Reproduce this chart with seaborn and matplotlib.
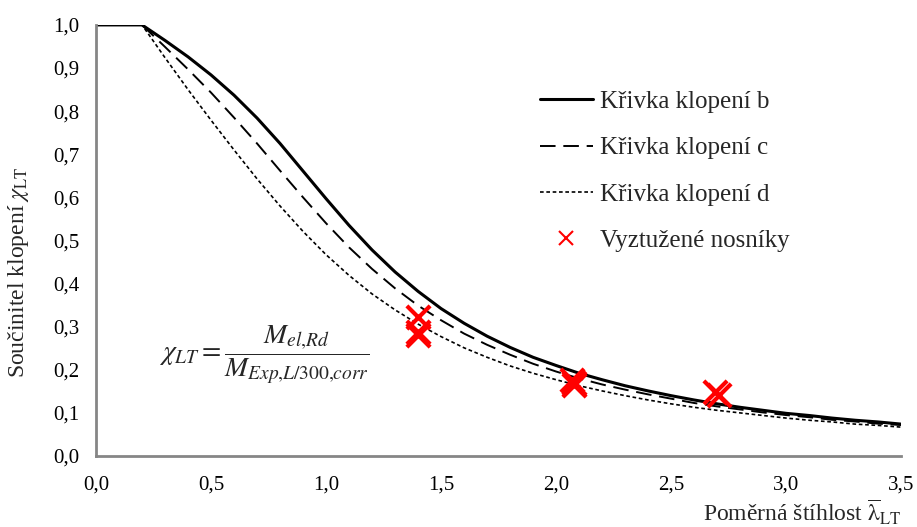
import matplotlib
matplotlib.use("Agg")
import matplotlib.pyplot as plt
import matplotlib.ticker as mticker
from matplotlib.lines import Line2D
import pandas as pd
import seaborn as sns

# relative slenderness (x axis)
lam = [0.0, 0.2, 0.3, 0.4, 0.5, 0.6, 0.7, 0.8, 0.9, 1.0, 1.1, 1.2, 1.3, 1.4, 1.5,
       1.6, 1.7, 1.8, 1.9, 2.0, 2.1, 2.2, 2.3, 2.4, 2.5, 2.6, 2.7, 2.8, 2.9, 3.0,
       3.1, 3.2, 3.3, 3.4, 3.5]

# buckling curves
chi_b = [1.0, 1.0, 0.964, 0.926, 0.884, 0.837, 0.784, 0.725, 0.661, 0.597, 0.535,
         0.478, 0.427, 0.382, 0.342, 0.308, 0.278, 0.252, 0.229, 0.210, 0.192,
         0.177, 0.163, 0.151, 0.140, 0.130, 0.121, 0.113, 0.106, 0.099, 0.094,
         0.088, 0.083, 0.079, 0.074]
chi_c = [1.0, 1.0, 0.949, 0.897, 0.843, 0.785, 0.725, 0.662, 0.600, 0.540, 0.484,
         0.434, 0.389, 0.349, 0.315, 0.284, 0.258, 0.235, 0.214, 0.196, 0.180,
         0.166, 0.154, 0.143, 0.133, 0.123, 0.115, 0.108, 0.101, 0.095, 0.090,
         0.084, 0.080, 0.075, 0.072]
chi_d = [1.0, 1.0, 0.924, 0.850, 0.779, 0.710, 0.643, 0.580, 0.521, 0.467, 0.419,
         0.376, 0.339, 0.306, 0.277, 0.251, 0.229, 0.209, 0.192, 0.177, 0.163,
         0.151, 0.140, 0.130, 0.121, 0.113, 0.106, 0.100, 0.094, 0.088, 0.083,
         0.079, 0.074, 0.071, 0.067]

# stiffened beams (tests)
test_lam = [1.40, 1.40, 1.40, 2.07, 2.08, 2.08, 2.69, 2.71]
test_chi = [0.322, 0.287, 0.280, 0.176, 0.170, 0.165, 0.148, 0.141]

curves = pd.DataFrame({"lam": lam, "b": chi_b, "c": chi_c, "d": chi_d})
tests = pd.DataFrame({"lam": test_lam, "chi": test_chi})

sns.set_style("white")
plt.rcParams["font.family"] = ["Liberation Serif", "DejaVu Serif"]
plt.rcParams["mathtext.fontset"] = "stix"

fig = plt.figure(figsize=(9.17, 5.27), dpi=100)
ax = fig.add_axes([0.1047, 0.1347, 0.878, 0.818])

sns.lineplot(data=curves, x="lam", y="b", ax=ax, color="black", lw=2.2,
             label="Křivka klopení b")
sns.lineplot(data=curves, x="lam", y="c", ax=ax, color="black", lw=1.4,
             dashes=(8, 4), label="Křivka klopení c")
sns.lineplot(data=curves, x="lam", y="d", ax=ax, color="black", lw=1.2,
             dashes=(2.2, 1.6), label="Křivka klopení d")
sns.scatterplot(data=tests, x="lam", y="chi", ax=ax, marker="x", s=280,
                color="red", linewidth=3, zorder=5, legend=False)

ax.set_xlim(0, 3.5)
ax.set_ylim(0, 1.0)
ax.xaxis.set_major_locator(mticker.MultipleLocator(0.5))
ax.yaxis.set_major_locator(mticker.MultipleLocator(0.1))
fmt = mticker.FuncFormatter(lambda v, p: f"{v:.1f}".replace(".", ","))
ax.xaxis.set_major_formatter(fmt)
ax.yaxis.set_major_formatter(fmt)

for s in ["top", "right"]:
    ax.spines[s].set_visible(False)
for s in ["left", "bottom"]:
    ax.spines[s].set_color("#868686")
    ax.spines[s].set_linewidth(2)
ax.tick_params(axis="both", direction="out", length=6, width=2, color="#868686",
               labelsize=15, labelcolor="black", pad=6)
ax.tick_params(axis="x", pad=8)

ax.set_xlabel(r"Poměrná štíhlost $\overline{\mathrm{\lambda}}_{\mathrm{LT}}$",
              fontsize=17, ha="right", va="center")
ax.xaxis.set_label_coords(1.0, -0.13)
ax.set_ylabel(r"Součinitel klopení $\chi_{\mathrm{LT}}$", fontsize=17,
              va="center")
ax.yaxis.set_label_coords(-0.096, 0.425)

ax.text(0.73, 0.235, r"$\chi_{LT} = \dfrac{M_{el{,}Rd}}{M_{Exp{,}L/300{,}corr}}$",
        fontsize=20, ha="center", va="center")

handles = ax.get_legend().legend_handles[:3] if ax.get_legend() else []
handles = handles + [Line2D([], [], ls="none", marker="x", color="red",
                            markersize=10, mew=1.5)]
labels = ["Křivka klopení b", "Křivka klopení c", "Křivka klopení d",
          "Vyztužené nosníky"]
ax.legend(handles, labels, loc="upper left", bbox_to_anchor=(0.523, 0.90),
          frameon=False, fontsize=18, handlelength=2.15, handletextpad=0.25,
          labelspacing=0.95)

fig.savefig("out.png", dpi=100)
